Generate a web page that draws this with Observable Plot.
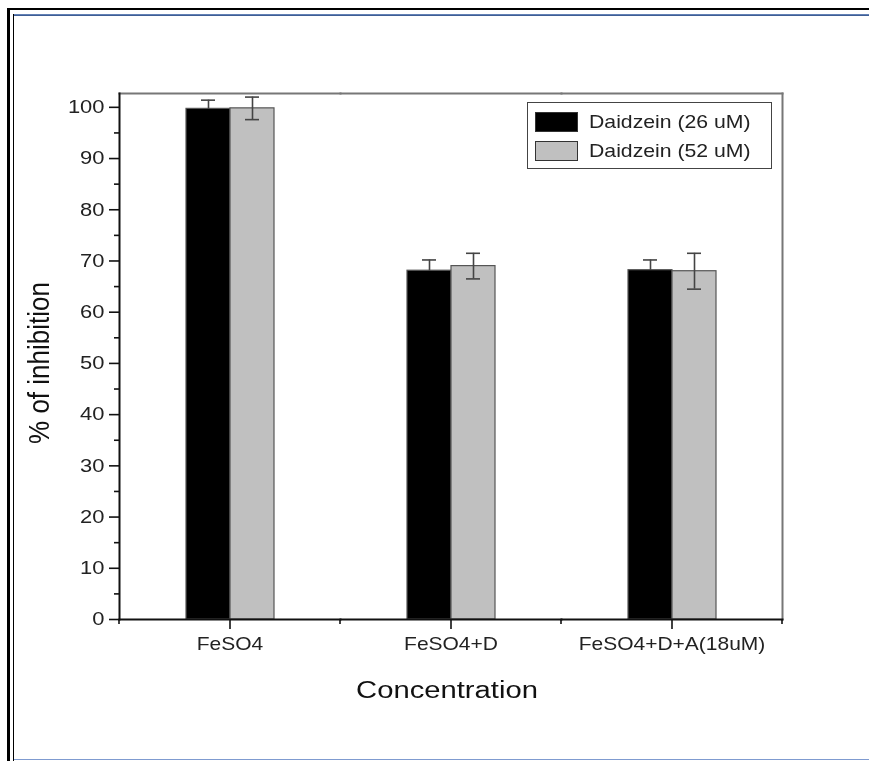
<!DOCTYPE html>
<html><head><meta charset="utf-8">
<script src="https://cdn.jsdelivr.net/npm/d3@7"></script>
<script src="https://cdn.jsdelivr.net/npm/@observablehq/plot@0.6"></script>
<style>
html,body{margin:0;padding:0;background:#fff;}
#wrap{position:relative;width:869px;height:761px;overflow:hidden;background:#fff;font-family:"Liberation Sans",Arial,sans-serif;color:#222;}
#wrap svg{position:absolute;left:0;top:0;}
.deco{position:absolute;}
.t{position:absolute;white-space:nowrap;line-height:1;}
</style></head><body><div id="wrap"></div>
<script>
// ---- data ----
const categories = ["FeSO4", "FeSO4+D", "FeSO4+D+A(18uM)"];
const series = ["Daidzein (26 uM)", "Daidzein (52 uM)"];
const values26 = [99.7, 68.1, 68.2];
const values52 = [99.8, 69.0, 68.0];
const errors26 = [1.7, 2.1, 2.0];
const errors52 = [2.2, 2.5, 3.5];
const colors = ["#000000", "#c0c0c0"];
const yTicks = [0, 10, 20, 30, 40, 50, 60, 70, 80, 90, 100];
const yMinorTicks = [5, 15, 25, 35, 45, 55, 65, 75, 85, 95];
const xTitle = "Concentration";
const yTitle = "% of inhibition";

const rows = categories.flatMap((c, i) => [
  {category: c, series: series[0], value: values26[i], err: errors26[i]},
  {category: c, series: series[1], value: values52[i], err: errors52[i]}
]);

const wrap = document.getElementById("wrap");

const plot = Plot.plot({
  width: 869, height: 761,
  marginLeft: 119, marginRight: 87, marginTop: 93, marginBottom: 142,
  style: {fontFamily: "'Liberation Sans', Arial, sans-serif", background: "transparent", color: "#222"},
  fx: {domain: categories, padding: 0, axis: null, label: null},
  x: {domain: series, paddingInner: 0, paddingOuter: 1.49, axis: null, label: null},
  y: {domain: [0, 102.7], axis: null, label: null},
  color: {domain: series, range: colors},
  marks: [
    Plot.barY(rows, {fx: "category", x: "series", y: "value", fill: "series", stroke: "#555", strokeWidth: 1.2}),
    Plot.ruleX(rows, {fx: "category", x: "series", y1: d => d.value - d.err, y2: d => d.value + d.err, stroke: "#444", strokeWidth: 1.6, mixBlendMode: "darken"}),
    Plot.tickY(rows, {fx: "category", x: "series", y: d => d.value + d.err, inset: 15, stroke: "#444", strokeWidth: 1.6, mixBlendMode: "darken"}),
    Plot.tickY(rows, {fx: "category", x: "series", y: d => d.value - d.err, inset: 15, stroke: "#444", strokeWidth: 1.6, mixBlendMode: "darken"}),
    Plot.frame({anchor: "top", stroke: "#777", strokeWidth: 2}),
    Plot.frame({anchor: "right", facetAnchor: "right", stroke: "#777", strokeWidth: 2}),
    Plot.frame({anchor: "left", facetAnchor: "left", stroke: "#111", strokeWidth: 2}),
    Plot.frame({anchor: "bottom", stroke: "#111", strokeWidth: 2}),
    Plot.axisY(yTicks, {tickSize: 10, tickPadding: 5, fontSize: 18, stroke: "#111", strokeWidth: 1.6}),
    Plot.axisY(yMinorTicks, {tickSize: 5, tickFormat: () => "", stroke: "#111", strokeWidth: 1.6}),
    Plot.axisFx({anchor: "bottom", tickSize: 10, tickPadding: 8, fontSize: 17.5, stroke: "#111", strokeWidth: 1.6, label: null})
  ]
});
wrap.appendChild(plot);

// minor x ticks at category band edges (from the library's fx scale)
const fxs = plot.scale("fx"), ys = plot.scale("y");
const y0 = ys.apply(0);
const edges = fxs.domain.map(d => fxs.apply(d)).concat([fxs.apply(fxs.domain[fxs.domain.length - 1]) + fxs.bandwidth]);
d3.select(plot).append("g").selectAll("line").data(edges).join("line")
  .attr("x1", d => d).attr("x2", d => d).attr("y1", y0).attr("y2", y0 + 5)
  .attr("stroke", "#111").attr("stroke-width", 1.6);

// horizontal widening of tick labels, as in the reference
function stretch(sel, k) {
  plot.querySelectorAll(sel).forEach(t => {
    const tr = t.getAttribute("transform");
    if (tr) t.setAttribute("transform", tr + ` scale(${k},1)`);
    else {
      const x = +t.getAttribute("x") || 0, y = +t.getAttribute("y") || 0;
      t.removeAttribute("x"); t.removeAttribute("y");
      t.setAttribute("transform", `translate(${x},${y}) scale(${k},1)`);
    }
  });
}
stretch('g[aria-label="y-axis tick label"] text', 1.22);
stretch('g[aria-label="fx-axis tick label"] text', 1.2);

// page border decoration
function deco(l, t, w, h, bg) {
  const d = document.createElement("div");
  d.className = "deco";
  Object.assign(d.style, {left: l + "px", top: t + "px", width: w + "px", height: h + "px", background: bg});
  wrap.appendChild(d);
}
deco(7, 7.5, 862, 2.5, "#000");
deco(7, 7.5, 2.5, 754, "#000");
deco(13, 13.5, 856, 2, "linear-gradient(#7391c4,#2e4d85)");
deco(13, 13.5, 1.3, 748, "#000");
deco(14, 758.5, 855, 1.5, "#7f9bd0");

// axis titles
function text(str, css) {
  const d = document.createElement("div");
  d.className = "t";
  d.textContent = str;
  Object.assign(d.style, css);
  wrap.appendChild(d);
  return d;
}
text(xTitle, {left: "447px", top: "679px", fontSize: "23px", color: "#111", transform: "translateX(-50%) scaleX(1.27)"});
text(yTitle, {left: "39px", top: "363px", fontSize: "26px", color: "#111", transform: "translate(-50%,-50%) rotate(-90deg) scaleY(1.15)"});

// legend (inside the frame, top right)
const leg = document.createElement("div");
Object.assign(leg.style, {position: "absolute", left: "527px", top: "102px", width: "245px", height: "67px", border: "1.3px solid #444", boxSizing: "border-box", background: "#fff"});
wrap.appendChild(leg);
series.forEach((s, i) => {
  const sw = document.createElement("div");
  Object.assign(sw.style, {position: "absolute", left: "6.5px", top: (8.5 + i * 29) + "px", width: "43.5px", height: "20.5px", background: colors[i], border: "1.2px solid #333", boxSizing: "border-box"});
  leg.appendChild(sw);
  const tx = document.createElement("div");
  tx.textContent = s;
  Object.assign(tx.style, {position: "absolute", left: "60.5px", top: (8.5 + i * 29) + "px", lineHeight: "20.5px", fontSize: "17.7px", whiteSpace: "nowrap", color: "#222", transform: "scaleX(1.2)", transformOrigin: "left center"});
  leg.appendChild(tx);
});
</script>
</body></html>
